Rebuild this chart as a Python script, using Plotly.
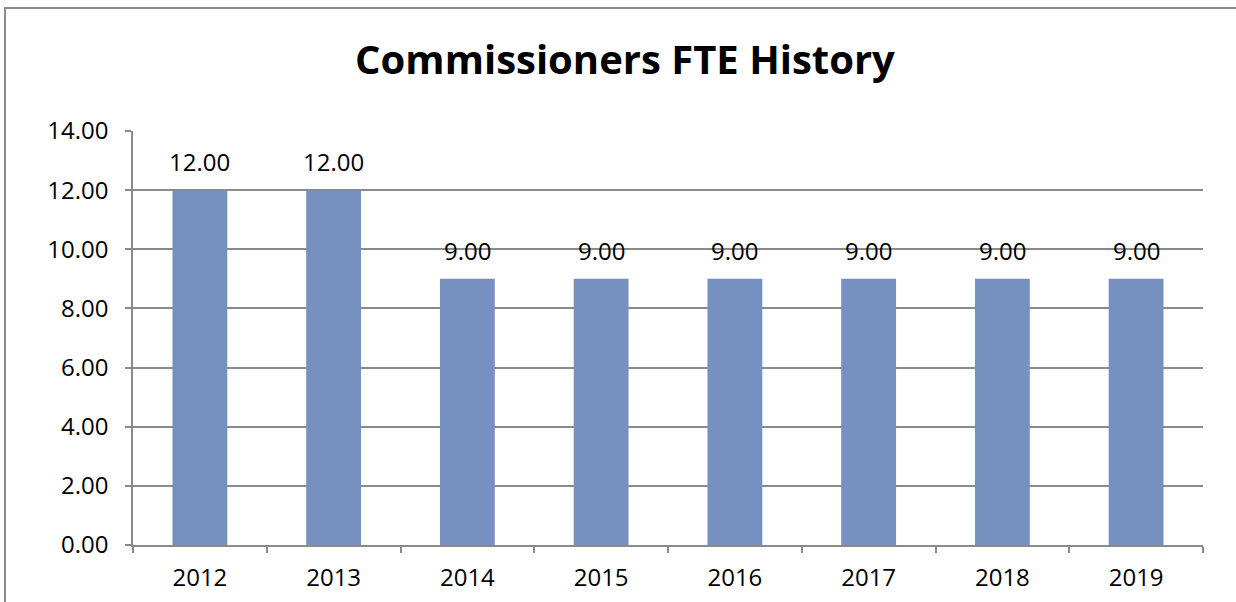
import plotly.graph_objects as go

years = ["2012", "2013", "2014", "2015", "2016", "2017", "2018", "2019"]
fte = [12.00, 12.00, 9.00, 9.00, 9.00, 9.00, 9.00, 9.00]
y_ticks = [0, 2, 4, 6, 8, 10, 12, 14]
y_tick_labels = ["0.00", "2.00", "4.00", "6.00", "8.00", "10.00", "12.00", "14.00"]

FONT = "Open Sans"
GRID = "#8a8a8a"
FS = 24

W, H = 1236, 602
L, R, T, B = 133, 33, 131, 57
pw, ph = W - L - R, H - T - B
fx = lambda px: (px - L) / pw
fy = lambda py: (H - B - py) / ph

fig = go.Figure()
fig.add_trace(go.Bar(
    x=years, y=fte,
    marker=dict(color="#7690c0", line=dict(width=0)),
    width=0.41,
    hoverinfo="x+y",
))

for i, v in enumerate(fte):
    fig.add_annotation(x=i, y=v, xref="x", yref="y", text=f"{v:.2f}", showarrow=False,
                       yanchor="bottom", yshift=10,
                       font=dict(family=FONT, size=FS, color="#000000"))

fig.add_shape(type="rect", xref="paper", yref="paper",
              x0=fx(5), x1=fx(1300), y0=fy(700), y1=fy(8),
              line=dict(color="#8a8a8a", width=2), fillcolor="rgba(0,0,0,0)", layer="below")

fig.update_layout(
    width=W, height=H,
    margin=dict(l=L, r=R, t=T, b=B, autoexpand=False),
    paper_bgcolor="white", plot_bgcolor="white",
    title=dict(text="<b>Commissioners FTE History</b>", xref="container",
               x=625 / W, xanchor="center",
               yref="container", y=1 - 60 / H, yanchor="middle",
               font=dict(family=FONT, size=40, color="#000000")),
    showlegend=False,
    bargap=0.59,
    xaxis=dict(
        type="category", range=[-0.5, len(years) - 0.5], autorange=False,
        showgrid=False, showline=True, linecolor=GRID, linewidth=1.5,
        ticks="outside", tickson="boundaries", ticklen=6, tickcolor=GRID, tickwidth=1.5,
        tickfont=dict(family=FONT, size=FS, color="#000000"),
        ticklabelstandoff=10, tickangle=0, automargin=False,
        fixedrange=True,
    ),
    yaxis=dict(
        range=[0, 14], autorange=False, tickvals=y_ticks, ticktext=y_tick_labels,
        showgrid=True, gridcolor=GRID, gridwidth=1.5,
        showline=True, linecolor=GRID, linewidth=1.5,
        ticks="outside", ticklen=6, tickcolor=GRID, tickwidth=1.5,
        tickfont=dict(family=FONT, size=FS, color="#000000"),
        ticklabelstandoff=12, automargin=False,
        zeroline=False, fixedrange=True,
    ),
)

fig.write_html("out.html", config={"displayModeBar": False},
               post_script="document.body.style.margin='0';")
